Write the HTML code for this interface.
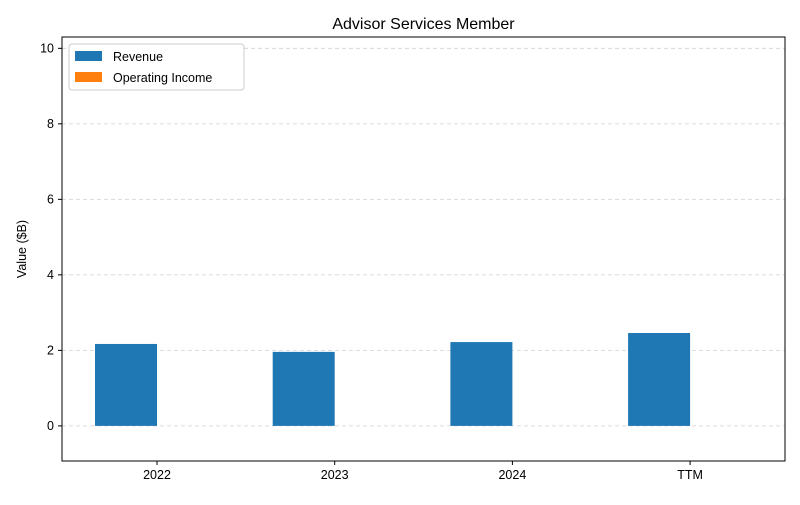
<!DOCTYPE html>
<html><head><meta charset="utf-8"><style>
body{margin:0;background:#fff;font-family:"Liberation Sans","DejaVu Sans",sans-serif;}
svg text{font-family:"Liberation Sans","DejaVu Sans",sans-serif;}
</style></head><body>
<svg id="chart" width="800" height="500" xmlns="http://www.w3.org/2000/svg"></svg>
<script>
const categories = ["2022","2023","2024","TTM"];
const revenue = [2.17, 1.96, 2.22, 2.46];
const operatingIncome = [0, 0, 0, 0];
const yTicks = [0, 2, 4, 6, 8, 10];
const yMin = -0.93, yMax = 10.3;
const L = 62, R = 785, T = 37, B = 461;
const svg = document.getElementById('chart');
const NS = "http://www.w3.org/2000/svg";
function y(v){ return B - (v - yMin) / (yMax - yMin) * (B - T); }
const step = 177.7, x0 = 157;
function xc(i){ return x0 + i * step; }
const bw = 62;
function mk(tag, attrs, name, text){
  const e = document.createElementNS(NS, tag);
  for (const k in attrs) e.setAttribute(k, attrs[k]);
  
  
  if (text !== undefined) e.textContent = text;
  svg.appendChild(e); return e;
}
yTicks.forEach(t => {
  mk('line', {x1:L, x2:R, y1:y(t), y2:y(t), stroke:'#d0d0d0', 'stroke-dasharray':'4,3', 'stroke-width':0.8}, 'grid-line');
  mk('line', {x1:L-4, x2:L, y1:y(t), y2:y(t), stroke:'#000'}, 'y-tick');
  mk('text', {x:L-8, y:y(t)+4, 'text-anchor':'end', 'font-size':12.5}, 'y-tick-label', String(t));
});
categories.forEach((c, i) => {
  mk('rect', {x:xc(i)-bw, y:y(revenue[i]), width:bw, height:y(0)-y(revenue[i]), fill:'#1f77b4'}, 'bar-revenue-' + c);
  const oi = operatingIncome[i];
  mk('rect', {x:xc(i), y:y(Math.max(oi,0)), width:bw, height:Math.abs(y(0)-y(oi)), fill:'#ff7f0e'}, 'bar-operating-income-' + c);
  mk('line', {x1:xc(i), x2:xc(i), y1:B, y2:B+4, stroke:'#000'}, 'x-tick');
  mk('text', {x:xc(i), y:B+18, 'text-anchor':'middle', 'font-size':12.5}, 'x-tick-label', c);
});
mk('rect', {x:L, y:T, width:R-L, height:B-T, fill:'none', stroke:'#000', 'stroke-width':1}, 'plot-frame');
mk('text', {x:(L+R)/2, y:29, 'text-anchor':'middle', 'font-size':16}, 'chart-title', 'Advisor Services Member');
mk('text', {x:26, y:(T+B)/2, 'text-anchor':'middle', 'font-size':12.5, transform:'rotate(-90 26 '+((T+B)/2)+')'}, 'y-axis-title', 'Value ($B)');
mk('rect', {x:69, y:44, width:175, height:46, fill:'#fff', stroke:'#ccc', rx:3}, 'legend-box');
mk('rect', {x:75, y:51, width:27, height:10, fill:'#1f77b4'}, 'legend-swatch-revenue');
mk('text', {x:113, y:61, 'font-size':12.5}, 'legend-label-revenue', 'Revenue');
mk('rect', {x:75, y:72, width:27, height:10, fill:'#ff7f0e'}, 'legend-swatch-operating-income');
mk('text', {x:113, y:82, 'font-size':12.5}, 'legend-label-operating-income', 'Operating Income');
</script>
</body></html>
